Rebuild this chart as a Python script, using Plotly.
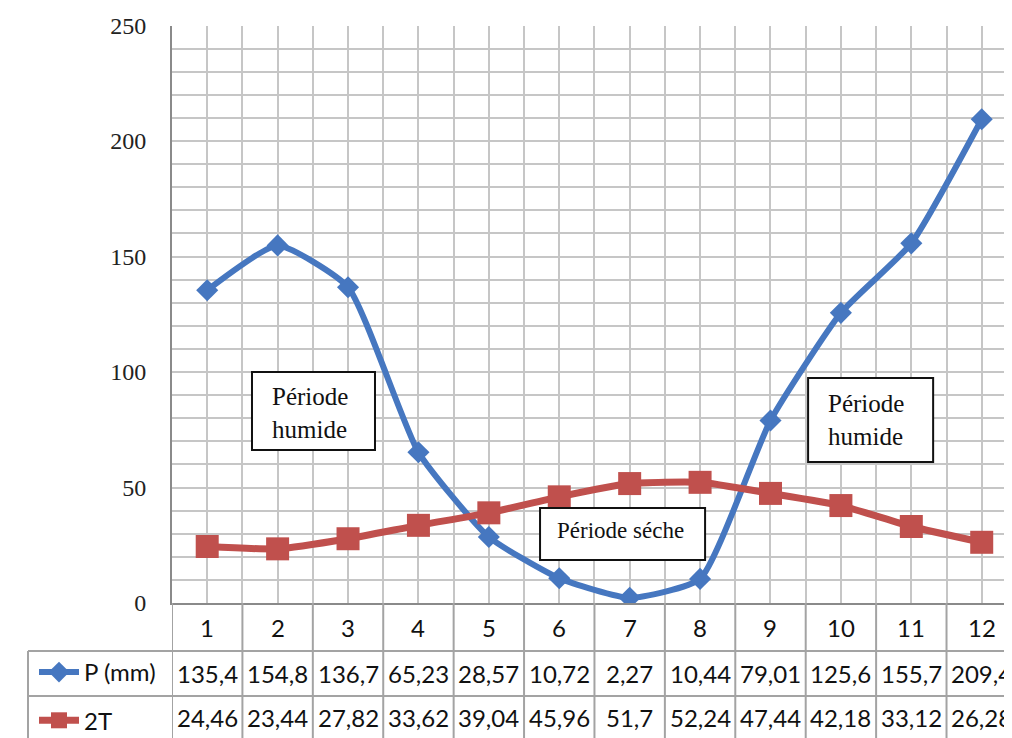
import plotly.graph_objects as go

months = [1, 2, 3, 4, 5, 6, 7, 8, 9, 10, 11, 12]
precip = [135.4, 154.8, 136.7, 65.23, 28.57, 10.72, 2.27, 10.44, 79.01, 125.6, 155.7, 209.4]
temp2 = [24.46, 23.44, 27.82, 33.62, 39.04, 45.96, 51.7, 52.24, 47.44, 42.18, 33.12, 26.28]
y_ticks = [0, 50, 100, 150, 200, 250]
series_names = ["P (mm)", "2T"]

BLUE = "#4677c0"
RED = "#c0504d"
GRID = "#c6c6c6"
TABLE = "#a3a3a3"
NUM_FONT = "Lato"
SERIF = "Liberation Serif"
W, H = 1012, 738
OFF = 8  # page body margin


def fr(v):
    return str(v).replace(".", ",")


def py(sy):
    return (H - (sy - OFF)) / H


def pxx(sx):
    return (sx - OFF) / W


fig = go.Figure()
fig.add_trace(go.Scatter(
    x=months, y=precip, name=series_names[0], mode="lines+markers",
    line=dict(color=BLUE, width=6, shape="spline", smoothing=0.5),
    marker=dict(symbol="diamond", size=17, color=BLUE),
    legendgroup="a",
))
fig.add_trace(go.Scatter(
    x=months, y=temp2, name=series_names[1], mode="lines+markers",
    line=dict(color=RED, width=7, shape="spline", smoothing=0.5),
    marker=dict(symbol="square", size=23, color=RED),
    legendgroup="b",
))

shapes = []
for k in range(13):
    shapes.append(dict(type="line", xref="x", yref="paper", x0=k + 0.5, x1=k + 0.5,
                       y0=py(603), y1=py(750), line=dict(color=TABLE, width=2)))
for yy in (651, 696):
    shapes.append(dict(type="line", xref="paper", yref="paper", x0=pxx(28), x1=1.0,
                       y0=py(yy), y1=py(yy), line=dict(color=TABLE, width=2)))
shapes.append(dict(type="line", xref="paper", yref="paper", x0=pxx(28), x1=pxx(28),
                   y0=py(651), y1=py(750), line=dict(color=TABLE, width=2)))

boxes = [
    (1.636, 3.383, 66.2, 100.0),
    (9.534, 11.31, 61.0, 97.4),
    (5.727, 8.071, 18.6, 41.1),
]
for x0, x1, y0, y1 in boxes:
    shapes.append(dict(type="rect", xref="x", yref="y", x0=x0, x1=x1, y0=y0, y1=y1,
                       line=dict(color="#111", width=2), fillcolor="white", layer="above"))

annotations = []
cell_font = dict(family=NUM_FONT, size=24, color="#111")
for m, p, t in zip(months, precip, temp2):
    annotations.append(dict(x=m, y=py(627), xref="x", yref="paper", text=str(m),
                            yanchor="middle", showarrow=False, font=cell_font))
    annotations.append(dict(x=m, y=py(673), xref="x", yref="paper", text=fr(p),
                            yanchor="middle", showarrow=False, font=cell_font))
    annotations.append(dict(x=m, y=py(717), xref="x", yref="paper", text=fr(t),
                            yanchor="middle", showarrow=False, font=cell_font))

annotations += [
    dict(x=1.892, y=82.3, xref="x", yref="y", text="Période<br>humide", align="left",
         xanchor="left", yanchor="middle", showarrow=False,
         font=dict(family=SERIF, size=25, color="#111")),
    dict(x=9.79, y=79.2, xref="x", yref="y", text="Période<br>humide", align="left",
         xanchor="left", yanchor="middle", showarrow=False,
         font=dict(family=SERIF, size=25, color="#111")),
    dict(x=5.94, y=31.2, xref="x", yref="y", text="Période séche", align="left",
         xanchor="left", yanchor="middle", showarrow=False,
         font=dict(family=SERIF, size=23, color="#111")),
]

fig.update_layout(
    width=W, height=H,
    margin=dict(l=0, r=0, t=0, b=0, autoexpand=False),
    plot_bgcolor="white", paper_bgcolor="white",
    shapes=shapes, annotations=annotations,
    showlegend=True,
    legend=dict(x=pxx(34), y=py(650), xanchor="left", yanchor="top",
                font=dict(family=NUM_FONT, size=24, color="#111"),
                tracegroupgap=14, bgcolor="rgba(0,0,0,0)", itemwidth=40),
    xaxis=dict(domain=[pxx(172), pxx(1012)], range=[0.5, 12.43], tick0=0, dtick=0.5,
               showticklabels=False, automargin=False,
               showgrid=True, gridcolor=GRID, gridwidth=2, zeroline=False,
               showline=True, linecolor="#8a8a8a", linewidth=2, ticks=""),
    yaxis=dict(domain=[py(603), py(25.5)], range=[0, 250], tickvals=y_ticks,
               ticktext=[str(v) for v in y_ticks], automargin=False,
               showgrid=False, zeroline=False, showline=True, linecolor="#8a8a8a",
               linewidth=2, ticks="", ticklabelstandoff=19,
               tickfont=dict(family=SERIF, size=24, color="#222"),
               minor=dict(dtick=10, showgrid=True, gridcolor=GRID, gridwidth=2)),
)

fig.write_html("out.html")
